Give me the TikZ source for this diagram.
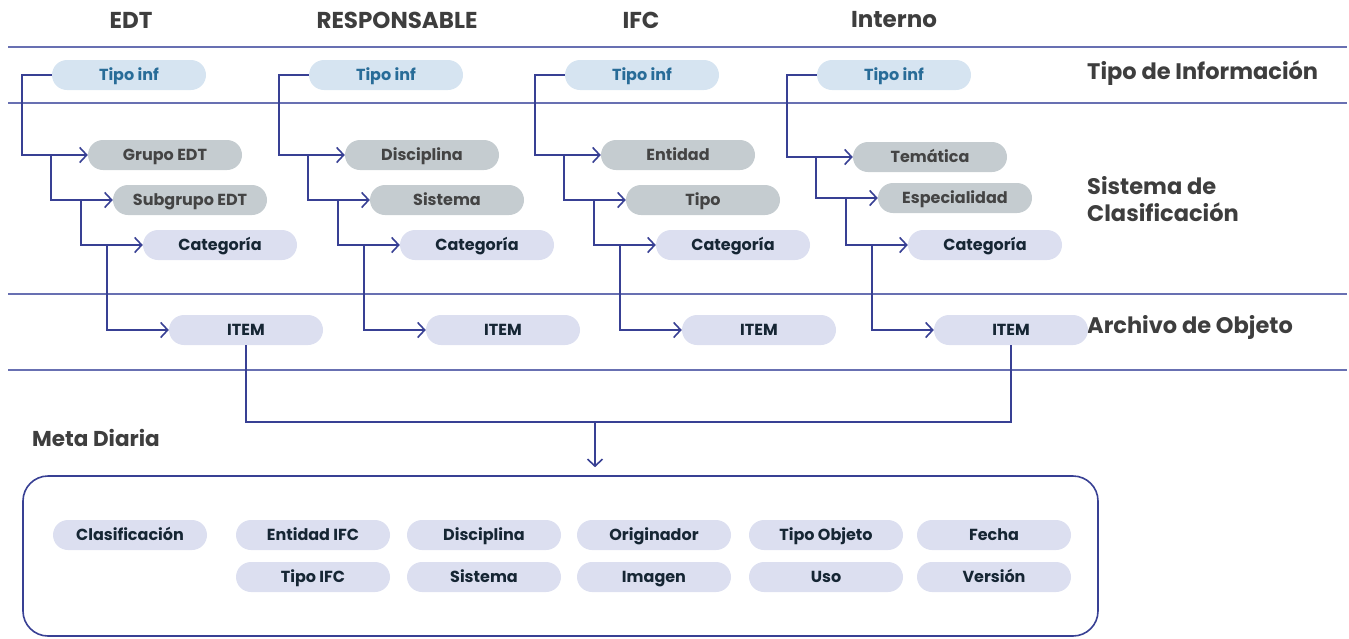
\documentclass[tikz,border=0pt]{standalone}
\usepackage{fontspec}
\setmainfont{Poppins}
\usetikzlibrary{arrows.meta,calc}
\definecolor{conncol}{RGB}{56,64,148}
\definecolor{sepcol}{RGB}{104,112,178}
\definecolor{tipofill}{RGB}{214,228,241}
\definecolor{tipotext}{RGB}{40,108,152}
\definecolor{grayfill}{RGB}{197,204,208}
\definecolor{graytext}{RGB}{68,68,68}
\definecolor{lilfill}{RGB}{220,223,240}
\definecolor{liltext}{RGB}{22,38,52}
\definecolor{headtext}{RGB}{62,62,62}
\tikzset{
  pill/.style={rounded corners=15pt, minimum width=154pt, minimum height=30pt, inner sep=0pt, text height=12pt, text depth=1pt, font=\bfseries\fontsize{16}{18}\selectfont},
  tipopill/.style={pill, fill=tipofill, text=tipotext},
  graypill/.style={pill, fill=grayfill, text=graytext},
  lilpill/.style={pill, fill=lilfill, text=liltext},
  conn/.style={draw=conncol, line width=1.6pt},
  arr/.style={conn, -{Straight Barb[length=7pt,width=15pt,line width=1.6pt]}},
  sep/.style={draw=sepcol, line width=1.5pt},
  head/.style={text=headtext, font=\bfseries\fontsize{23}{26}\selectfont, inner sep=0pt},
  side/.style={text=headtext, font=\bfseries\fontsize{22.5}{27}\selectfont, inner sep=0pt, anchor=west, align=left},
}
\newcommand{\mycolumn}[6]{%
  \node[tipopill] (t#1) at (#2+77,75) {Tipo inf};
  \node[graypill] (a#1) at (#2+113,#5) {#3};
  \node[graypill] (b#1) at (#2+138,#6) {#4};
  \node[lilpill] (c#1) at (#2+168,245) {Categoría};
  \node[lilpill] (i#1) at (#2+194,330) {ITEM};
  \draw[arr] (t#1.west) -- ++(-30,0) |- (a#1.west);
  \draw[arr] ($(a#1.west)+(-37,0)$) |- (b#1.west);
  \draw[arr] ($(b#1.west)+(-32,0)$) |- (c#1.west);
  \draw[arr] ($(c#1.west)+(-36,0)$) |- (i#1.west);
}
\begin{document}
\begin{tikzpicture}[x=1pt,y=-1pt]
\useasboundingbox (0,0) rectangle (1349,638);
% headers
\node[head] (h1) at (131,20) {EDT};
\node[head] (h2) at (397,20) {RESPONSABLE};
\node[head] (h3) at (641,20) {IFC};
\node[head] (h4) at (894,20) {Interno};
% separators
\coordinate (s1l) at (8,47);  \coordinate (s1r) at (1347,47);
\coordinate (s2l) at (8,103); \coordinate (s2r) at (1347,103);
\coordinate (s3l) at (8,294); \coordinate (s3r) at (1347,294);
\coordinate (s4l) at (8,370); \coordinate (s4r) at (1347,370);
\draw[sep] (s1l) -- (s1r);
\draw[sep] (s2l) -- (s2r);
\draw[sep] (s3l) -- (s3r);
\draw[sep] (s4l) -- (s4r);
% side labels
\node[side] (l1) at (1087,73) {Tipo de Información};
\node[side] (l2) at (1087,199) {Sistema de\\Clasificación};
\node[side] (l3) at (1087,327) {Archivo de Objeto};
% columns
\mycolumn{1}{52}{Grupo EDT}{Subgrupo EDT}{155}{200}
\mycolumn{2}{309}{Disciplina}{Sistema}{155}{200}
\mycolumn{3}{565}{Entidad}{Tipo}{155}{200}
\mycolumn{4}{817}{Temática}{Especialidad}{157}{198}
% merge
\node[draw=conncol, line width=1.6pt, rounded corners=25pt, minimum width=1075pt, minimum height=160pt, inner sep=0pt] (box) at (560.5,556) {};
\coordinate (m) at (595,422);
\draw[conn] (i1.south) |- (m) -| (i4.south);
\draw[arr, shorten >=8pt] (m) -- (m |- box.north);
\node[text=headtext, font=\bfseries\fontsize{21.5}{24}\selectfont, inner sep=0pt, anchor=west] (meta) at (32,438) {Meta Diaria};
% bottom pills
\node[lilpill] (p1) at (130,535) {Clasificación};
\node[lilpill] (p2) at (313,535) {Entidad IFC};
\node[lilpill] (p3) at (484,535) {Disciplina};
\node[lilpill] (p4) at (654,535) {Originador};
\node[lilpill] (p5) at (826,535) {Tipo Objeto};
\node[lilpill] (p6) at (994,535) {Fecha};
\node[lilpill] (q2) at (313,577) {Tipo IFC};
\node[lilpill] (q3) at (484,577) {Sistema};
\node[lilpill] (q4) at (654,577) {Imagen};
\node[lilpill] (q5) at (826,577) {Uso};
\node[lilpill] (q6) at (994,577) {Versión};
\end{tikzpicture}
\end{document}
